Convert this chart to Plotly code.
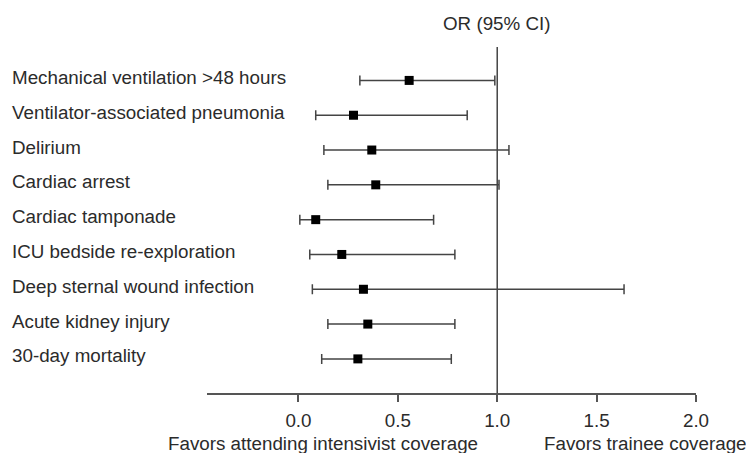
import plotly.graph_objects as go

outcomes = [
    "Mechanical ventilation >48 hours",
    "Ventilator-associated pneumonia",
    "Delirium",
    "Cardiac arrest",
    "Cardiac tamponade",
    "ICU bedside re-exploration",
    "Deep sternal wound infection",
    "Acute kidney injury",
    "30-day mortality",
]
odds_ratio = [0.557, 0.277, 0.369, 0.389, 0.087, 0.218, 0.327, 0.349, 0.299]
ci_lower = [0.309, 0.087, 0.128, 0.148, 0.007, 0.057, 0.070, 0.148, 0.117]
ci_upper = [0.988, 0.849, 1.059, 1.009, 0.680, 0.787, 1.638, 0.787, 0.769]
tick_values = [0.0, 0.5, 1.0, 1.5, 2.0]
tick_labels = ["0.0", "0.5", "1.0", "1.5", "2.0"]

FONT = "Liberation Sans, Arial, Helvetica, sans-serif"
TXT = "#2b2b2b"
FS = 18.8

err_plus = [u - o for u, o in zip(ci_upper, odds_ratio)]
err_minus = [o - l for o, l in zip(odds_ratio, ci_lower)]

fig = go.Figure()
fig.add_trace(go.Scatter(
    x=odds_ratio, y=outcomes, mode="markers",
    marker=dict(symbol="square", size=9, color="black"),
    error_x=dict(type="data", symmetric=False, array=err_plus, arrayminus=err_minus,
                 color="#444444", thickness=1.5, width=5),
    showlegend=False, hoverinfo="skip",
))

fig.add_shape(type="line", xref="x", yref="paper", x0=1.0, x1=1.0, y0=0, y1=1,
              line=dict(color="#444444", width=1.5), layer="below")

for name in outcomes:
    fig.add_annotation(xref="paper", yref="y", x=(10 - 207) / 489, y=name, text=name,
                       xanchor="left", yanchor="middle", showarrow=False, yshift=3,
                       font=dict(family=FONT, size=FS, color=TXT))

fig.add_annotation(xref="x", yref="paper", x=1.0, y=1, yshift=24, text="OR (95% CI)",
                   xanchor="center", yanchor="middle", showarrow=False,
                   font=dict(family=FONT, size=FS, color=TXT))
fig.add_annotation(xref="paper", yref="paper", x=(322.5 - 207) / 489, y=0, yshift=-50,
                   text="Favors attending intensivist coverage", xanchor="center",
                   yanchor="middle", showarrow=False,
                   font=dict(family=FONT, size=FS, color=TXT))
fig.add_annotation(xref="paper", yref="paper", x=(645.5 - 207) / 489, y=0, yshift=-50,
                   text="Favors trainee coverage", xanchor="center",
                   yanchor="middle", showarrow=False,
                   font=dict(family=FONT, size=FS, color=TXT))

fig.update_layout(
    width=746, height=453,
    margin=dict(l=207, r=50, t=47, b=60),
    paper_bgcolor="white", plot_bgcolor="white",
    xaxis=dict(range=[-0.46, 2.0], showgrid=False, zeroline=False,
               showline=True, linecolor="#555555", linewidth=1.5,
               ticks="outside", ticklen=7, tickwidth=1.5, tickcolor="#555555",
               tickvals=tick_values, ticktext=tick_labels, ticklabelstandoff=3,
               tickfont=dict(family=FONT, size=FS, color=TXT)),
    yaxis=dict(type="category", categoryorder="array", categoryarray=outcomes,
               range=[8.98, -0.96], showgrid=False, zeroline=False,
               showline=False, showticklabels=False, ticks=""),
)

fig.write_html(
    "out.html",
    config={"displayModeBar": False},
    post_script="document.body.style.margin='0';document.body.style.padding='0';"
                "document.body.style.overflow='hidden';",
)
